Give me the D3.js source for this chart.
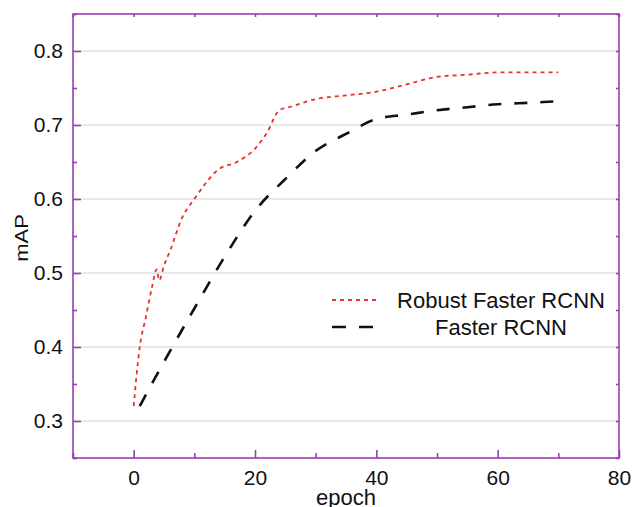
<!DOCTYPE html>
<meta charset="utf-8">
<script src="https://d3js.org/d3.v7.min.js"></script>
<style>
  body { margin: 0; background: #fff; }
  text { font-family: "Liberation Sans", Arial, sans-serif; fill: #111; }
</style>
<svg id="chart" width="634" height="507"></svg>
<script>

// data
var robustEpoch = [0, 1, 2, 3, 3.8, 4.2, 5, 6, 8, 10, 14, 17, 20, 22, 24, 26, 30, 35, 40, 45, 50, 55, 60, 65, 70];
var robustMap   = [0.32, 0.40, 0.44, 0.48, 0.505, 0.49, 0.51, 0.53, 0.575, 0.60, 0.64, 0.65, 0.668, 0.69, 0.72, 0.725, 0.735, 0.74, 0.745, 0.755, 0.765, 0.768, 0.771, 0.771, 0.771];

var fasterEpoch = [1, 5, 10, 15, 20, 25, 30, 35, 40, 45, 50, 55, 60, 65, 70];
var fasterMap   = [0.32, 0.38, 0.452, 0.522, 0.584, 0.627, 0.665, 0.688, 0.708, 0.714, 0.72, 0.724, 0.728, 0.73, 0.732];

var seriesNames = ["Robust Faster RCNN", "Faster RCNN"];
var xTicks = [0, 20, 40, 60, 80];
var xMinor = [-10, 10, 30, 50, 70];
var yTicks = [0.3, 0.4, 0.5, 0.6, 0.7, 0.8];
var yMinor = [0.25, 0.35, 0.45, 0.55, 0.65, 0.75, 0.85];

var svg = d3.select("#chart");
var pLeft = 73, pRight = 619, pTop = 14, pBottom = 458;
var frameColor = "#9a3db3";

var x = d3.scaleLinear().domain([-10, 80]).range([pLeft, pRight]);
var y = d3.scaleLinear().domain([0.25, 0.85]).range([pBottom, pTop]);

// grid
svg.append("g")
  .selectAll("line")
  .data(yTicks)
  .enter().append("line")
    .attr("x1", pLeft).attr("x2", pRight)
    .attr("y1", function(d) { return y(d); })
    .attr("y2", function(d) { return y(d); })
    .attr("stroke", "#d2d2d2")
    .attr("stroke-width", 1.2);

// lines
var robust = robustEpoch.map(function(e, i) { return [e, robustMap[i]]; });
var faster = fasterEpoch.map(function(e, i) { return [e, fasterMap[i]]; });

var line = d3.line()
  .x(function(d) { return x(d[0]); })
  .y(function(d) { return y(d[1]); })
  .curve(d3.curveMonotoneX);

svg.append("path")
  .datum(faster)
  .attr("d", line)
  .attr("fill", "none")
  .attr("stroke", "#111")
  .attr("stroke-width", 2.6)
  .attr("stroke-dasharray", "13,13");

svg.append("path")
  .datum(robust)
  .attr("d", line)
  .attr("fill", "none")
  .attr("stroke", "#e8312b")
  .attr("stroke-width", 1.8)
  .attr("stroke-dasharray", "4,4");

// frame
svg.append("rect")
  .attr("x", pLeft).attr("y", pTop)
  .attr("width", pRight - pLeft).attr("height", pBottom - pTop)
  .attr("fill", "none")
  .attr("stroke", frameColor)
  .attr("stroke-width", 1.6);

// axes
svg.append("g")
  .attr("transform", "translate(0," + pBottom + ")")
  .call(d3.axisBottom(x).tickValues(xTicks).tickSize(-8).tickPadding(12).tickFormat(d3.format("d")));
svg.append("g")
  .attr("transform", "translate(0," + pBottom + ")")
  .call(d3.axisBottom(x).tickValues(xMinor).tickSize(-5).tickFormat(""));
svg.append("g")
  .attr("transform", "translate(0," + pTop + ")")
  .call(d3.axisTop(x).tickValues(xTicks.concat(xMinor)).tickSize(-3).tickFormat(""));

svg.append("g")
  .attr("transform", "translate(" + pLeft + ",0)")
  .call(d3.axisLeft(y).tickValues(yTicks).tickSize(-8).tickPadding(10).tickFormat(d3.format(".1f")));
svg.append("g")
  .attr("transform", "translate(" + pLeft + ",0)")
  .call(d3.axisLeft(y).tickValues(yMinor).tickSize(-4).tickFormat(""));
svg.append("g")
  .attr("transform", "translate(" + pRight + ",0)")
  .call(d3.axisRight(y).tickValues(yTicks.concat(yMinor)).tickSize(-3).tickFormat(""));

svg.selectAll(".domain").remove();
svg.selectAll(".tick line").attr("stroke", frameColor).attr("stroke-width", 1.6);
svg.selectAll(".tick text")
  .style("font-family", "'Liberation Sans', Arial, sans-serif")
  .style("font-size", "21px")
  .attr("fill", "#111");

// axis titles
svg.append("text")
  .attr("x", (pLeft + pRight) / 2)
  .attr("y", 505)
  .attr("text-anchor", "middle")
  .style("font-size", "22px")
  .text("epoch");

svg.append("text")
  .attr("transform", "translate(28,238) rotate(-90) scale(1,0.82)")
  .attr("text-anchor", "middle")
  .style("font-size", "22px")
  .text("mAP");

// legend
var legend = svg.append("g");
legend.append("line")
  .attr("x1", 332).attr("x2", 380).attr("y1", 300).attr("y2", 300)
  .attr("stroke", "#e8312b").attr("stroke-width", 1.8).attr("stroke-dasharray", "4,4");
legend.append("line")
  .attr("x1", 332).attr("x2", 373).attr("y1", 327).attr("y2", 327)
  .attr("stroke", "#111").attr("stroke-width", 2.6).attr("stroke-dasharray", "14,13");
legend.selectAll("text.lab")
  .data(seriesNames)
  .enter().append("text")
    .attr("class", "lab")
    .attr("x", 501)
    .attr("y", function(d, i) { return 308 + i * 27; })
    .attr("text-anchor", "middle")
    .style("font-size", "22px")
    .text(function(d) { return d; });

</script>
